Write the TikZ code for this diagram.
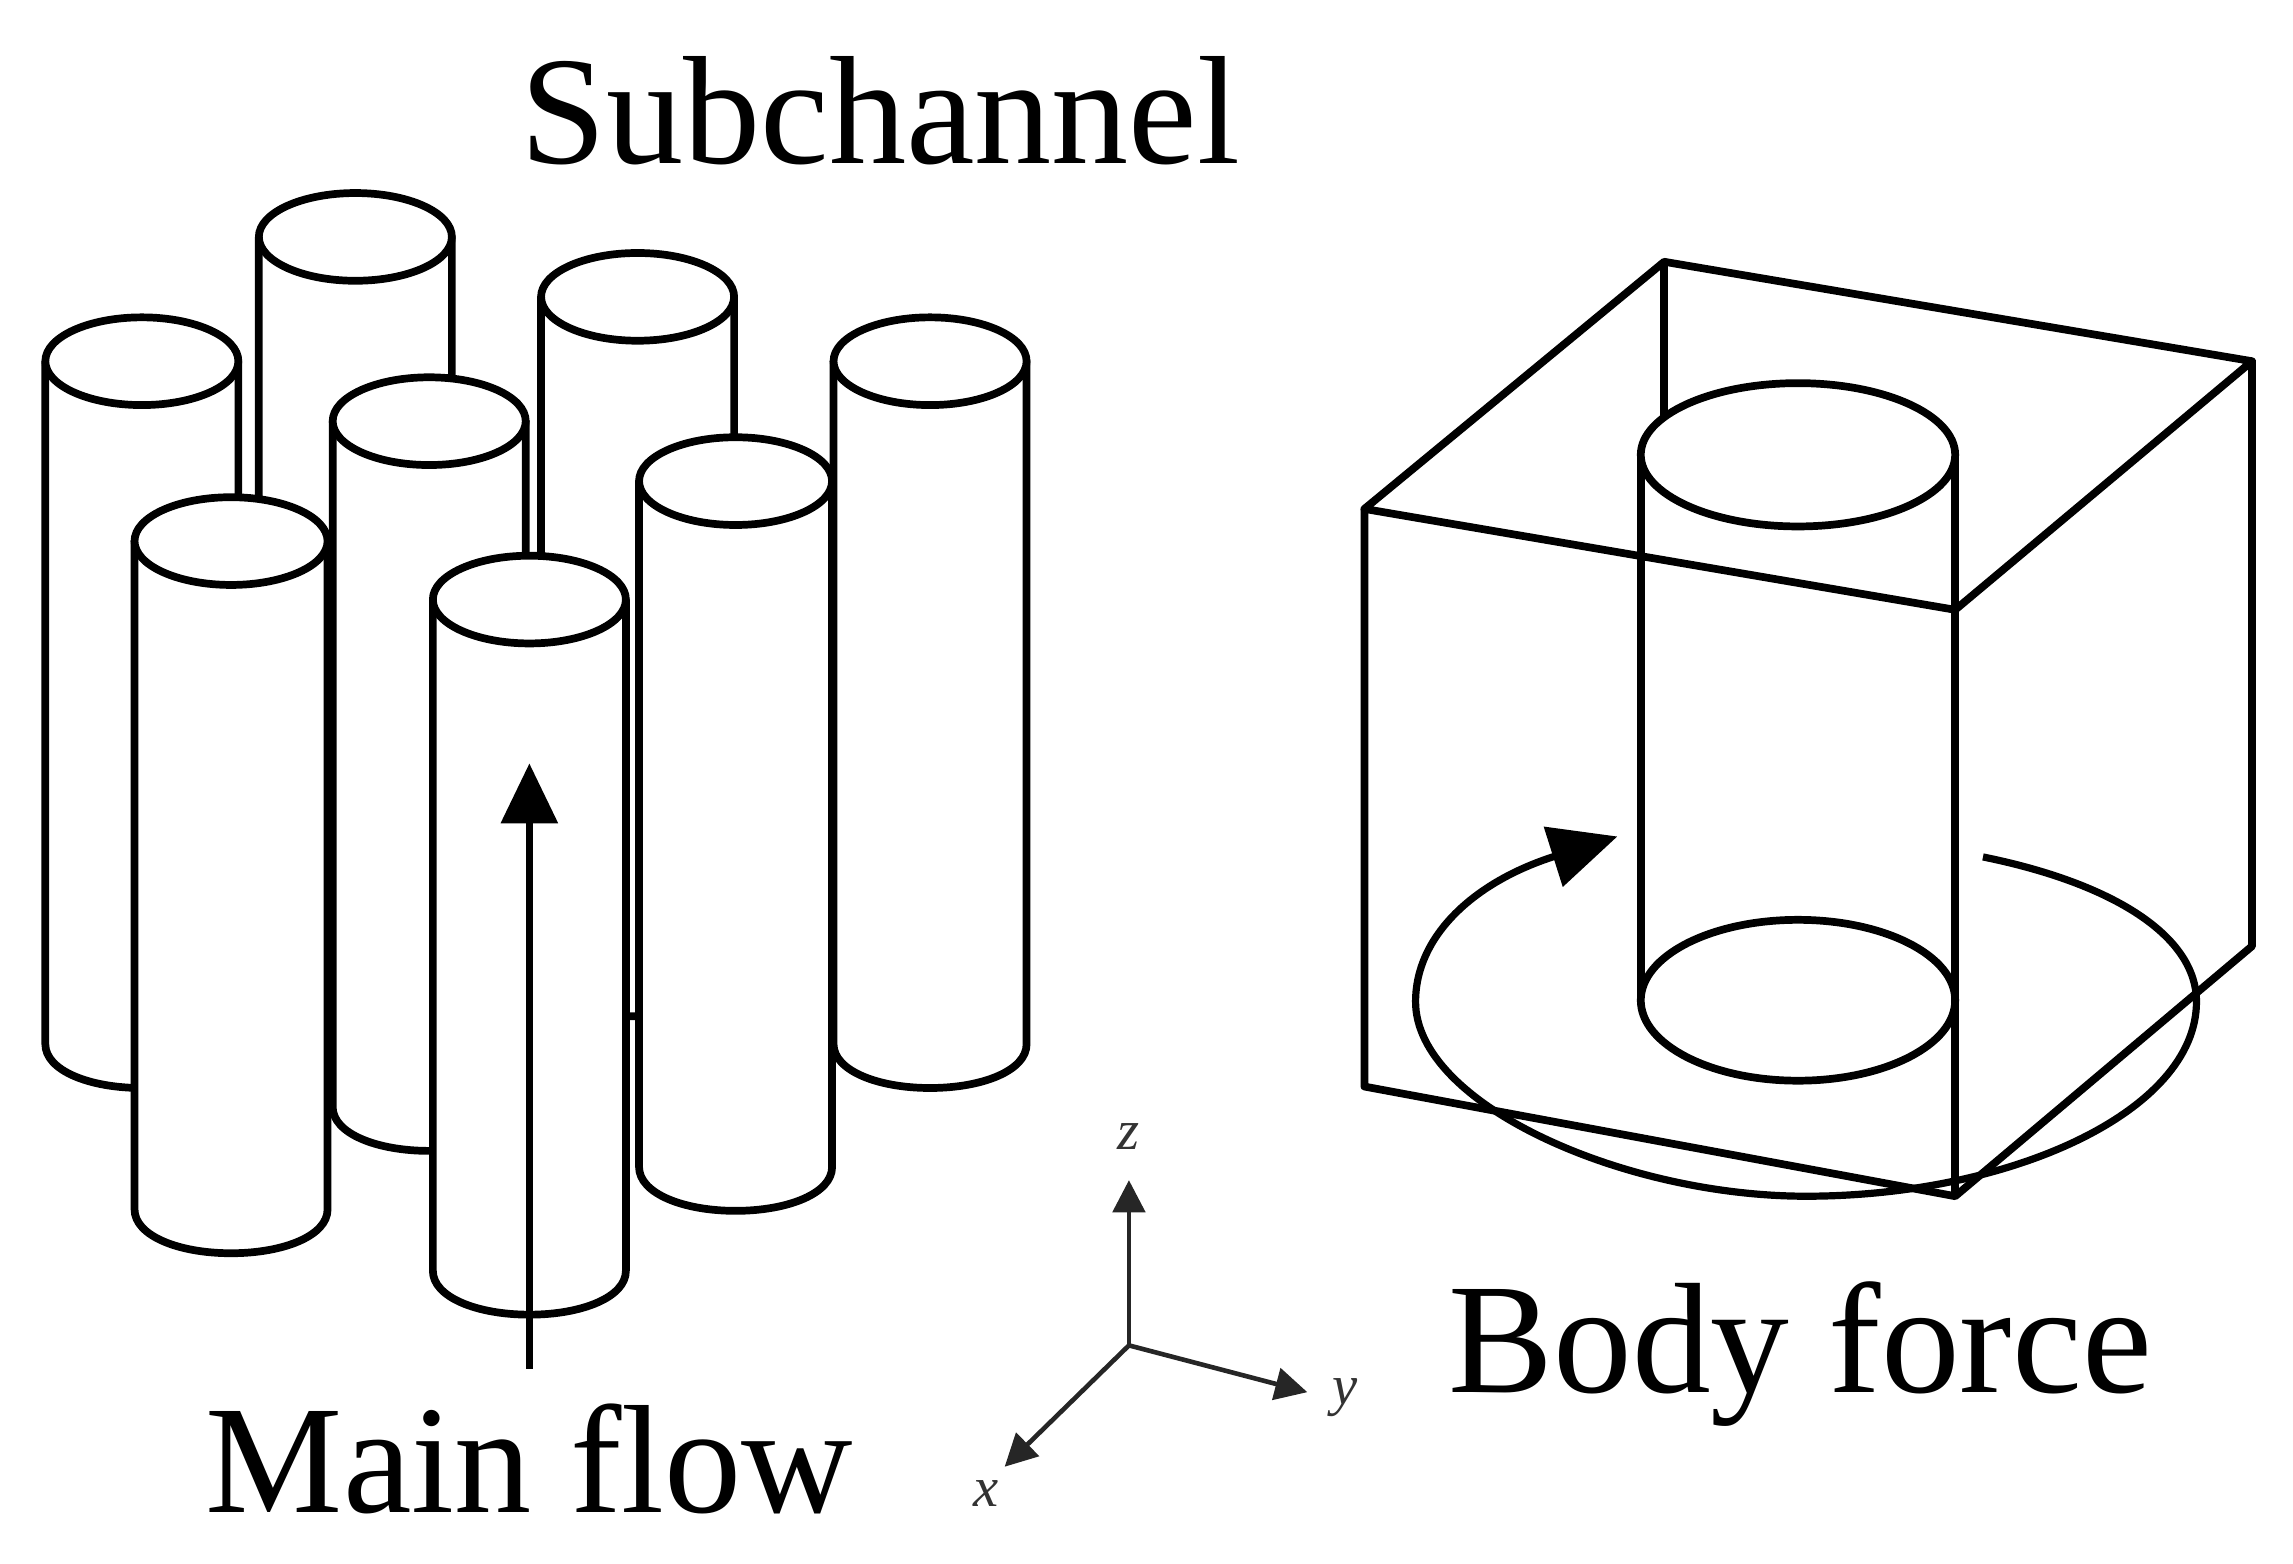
\documentclass[tikz,border=0pt]{standalone}
\usepackage{fontspec}
\setmainfont{Liberation Serif}
\usetikzlibrary{arrows.meta}
\tikzset{
  rod/.style = {draw, fill=white, line width=1.5pt, line join=round},
  wire/.style = {line width=1.5pt, line join=round},
  title/.style = {font=\fontsize{30}{32}\selectfont, anchor=base, inner sep=0pt},
  axislabel/.style = {font=\fontsize{11}{12}\selectfont\itshape, text=black!80, inner sep=0pt},
  axis/.style = {line width=0.9pt, black!85, -{Triangle[length=2.2mm,width=2.2mm]}}
}
\begin{document}
\begin{tikzpicture}[x=0.01cm,y=-0.01cm]
\useasboundingbox (0,0) rectangle (1568,1069.5);
% Subchannel rods, back to front
%-----------------------------------------------------------%
\foreach \cx/\ctop/\cbot in {243/162/600,436/203/665,97/247/714,636/247/714,293.5/288/757,503/329/798,158/370/827,362/410/869}
  { \draw[rod] (\cx-66,\ctop) -- (\cx-66,\cbot)
       .. controls (\cx-66,\cbot+18) and (\cx-36,\cbot+30) .. (\cx,\cbot+30)
       .. controls (\cx+36,\cbot+30) and (\cx+66,\cbot+18) .. (\cx+66,\cbot)
       -- (\cx+66,\ctop) -- cycle;
    \draw[rod] (\cx,\ctop) ellipse [x radius=66, y radius=30];}
% main flow arrow
\coordinate (flowtail) at (362,936);
\coordinate (flowtip) at (362,522);
\draw[line width=1.5pt, -{Triangle[length=4.1mm,width=3.8mm]}] (flowtail) -- (flowtip);
\node[title] (subchannel) at (602,112) {Subchannel};
\node[title] (mainflow) at (362,1034) {Main flow};
%-----------------------------------------------------------%
% axes
\coordinate (origin) at (772,920);
\coordinate (ztip) at (772,807);
\coordinate (ytip) at (894,952);
\coordinate (xtip) at (687,1003);
\draw[axis] (origin) -- (ztip);
\draw[axis] (origin) -- (ytip);
\draw[axis] (origin) -- (xtip);
\node[axislabel] (zlabel) at (772,777) {z};
\node[axislabel] (ylabel) at (920,956) {y};
\node[axislabel] (xlabel) at (674,1021) {x};
%-----------------------------------------------------------%
% cube corners
\coordinate (topleft) at (933,348);
\coordinate (topback) at (1138,179);
\coordinate (topright) at (1540,247);
\coordinate (topfront) at (1337,417);
\coordinate (botleft) at (933,743);
\coordinate (botright) at (1540,647);
\coordinate (botfront) at (1337,818);
% back edge
\draw[wire] (topback) -- (1138,290);
% cylinder inside the cube
\draw[rod] (1122,311) -- (1122,684) -- (1337,684) -- (1337,311) -- cycle;
\draw[rod] (1229.5,311) ellipse [x radius=107.5, y radius=49];
\draw[rod] (1229.5,684) ellipse [x radius=107.5, y radius=55];
% cube edges
\draw[wire] (topback) -- (topright) -- (topfront) -- (topleft) -- cycle;
\draw[wire] (topleft) -- (botleft) -- (botfront) -- (botright) -- (topright);
\draw[wire] (topfront) -- (botfront);
% body force swirl
\coordinate (swirlstart) at (1356,586);
\coordinate (swirltip) at (1106,572);
\draw[line width=1.4pt, -{Triangle[length=4.6mm,width=4.2mm]}] (swirlstart)
  .. controls (1445,604) and (1502,640) .. (1502,685)
  .. controls (1502,760) and (1375,818) .. (1235,818)
  .. controls (1110,818) and (968,755) .. (968,685)
  .. controls (968,640) and (1008,603) .. (swirltip);
\node[title, font=\fontsize{30.6}{32}\selectfont] (bodyforce) at (1231,952) {Body force};
\end{tikzpicture}
\end{document}
